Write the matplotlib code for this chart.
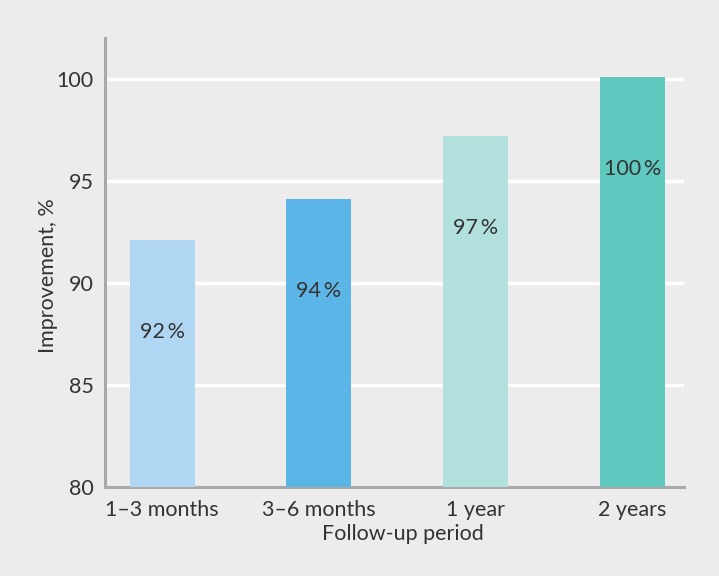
import matplotlib
matplotlib.use("Agg")
import matplotlib.pyplot as plt

plt.rcParams['font.family'] = ['Lato', 'DejaVu Sans']

categories = ["1–3 months", "3–6 months", "1 year", "2 years"]
values = [92.1, 94.1, 97.2, 100.1]
labels = ["92\u2009%", "94\u2009%", "97\u2009%", "100\u2009%"]
colors = ["#afd6f2", "#5bb5e7", "#b2e0dc", "#5fc8bf"]
yticks = [80, 85, 90, 95, 100]

bg = "#ebeceb"
fs = 15.5
fig = plt.figure(figsize=(7.19, 5.76), dpi=100, facecolor=bg)
ax = fig.add_axes([105/719, 1-487/576, (684-105)/719, (487-38)/576])
ax.set_facecolor(bg)

x = list(range(len(categories)))
ax.bar(x, [v - 80 for v in values], bottom=80, width=0.415, color=colors, zorder=3)
for xi, v, lab in zip(x, values, labels):
    ax.text(xi, v - 4.5, lab, ha='center', va='center', fontsize=fs, color='#333333', zorder=4)

ax.set_ylim(80, 102)
ax.set_xlim(-0.365, 3.33)
ax.set_yticks(yticks)
ax.set_xticks(x)
ax.set_xticklabels(categories)
ax.tick_params(length=0, labelsize=fs, colors='#333333', pad=8)
ax.tick_params(axis='x', pad=9)
for yv in yticks[1:]:
    ax.axhline(yv, color='white', lw=2.5, zorder=1)

for s in ['top', 'right']:
    ax.spines[s].set_visible(False)
for s in ['left', 'bottom']:
    ax.spines[s].set_color('#a9a9a9')
    ax.spines[s].set_linewidth(2.2)

ax.set_ylabel("Improvement, %", fontsize=fs, color='#333333')
ax.yaxis.set_label_coords(-0.082, 0.47)
ax.set_xlabel("Follow-up period", fontsize=fs, color='#333333')
ax.xaxis.set_label_coords(0.515, -0.082)

fig.savefig("out.png", dpi=100, facecolor=bg)
